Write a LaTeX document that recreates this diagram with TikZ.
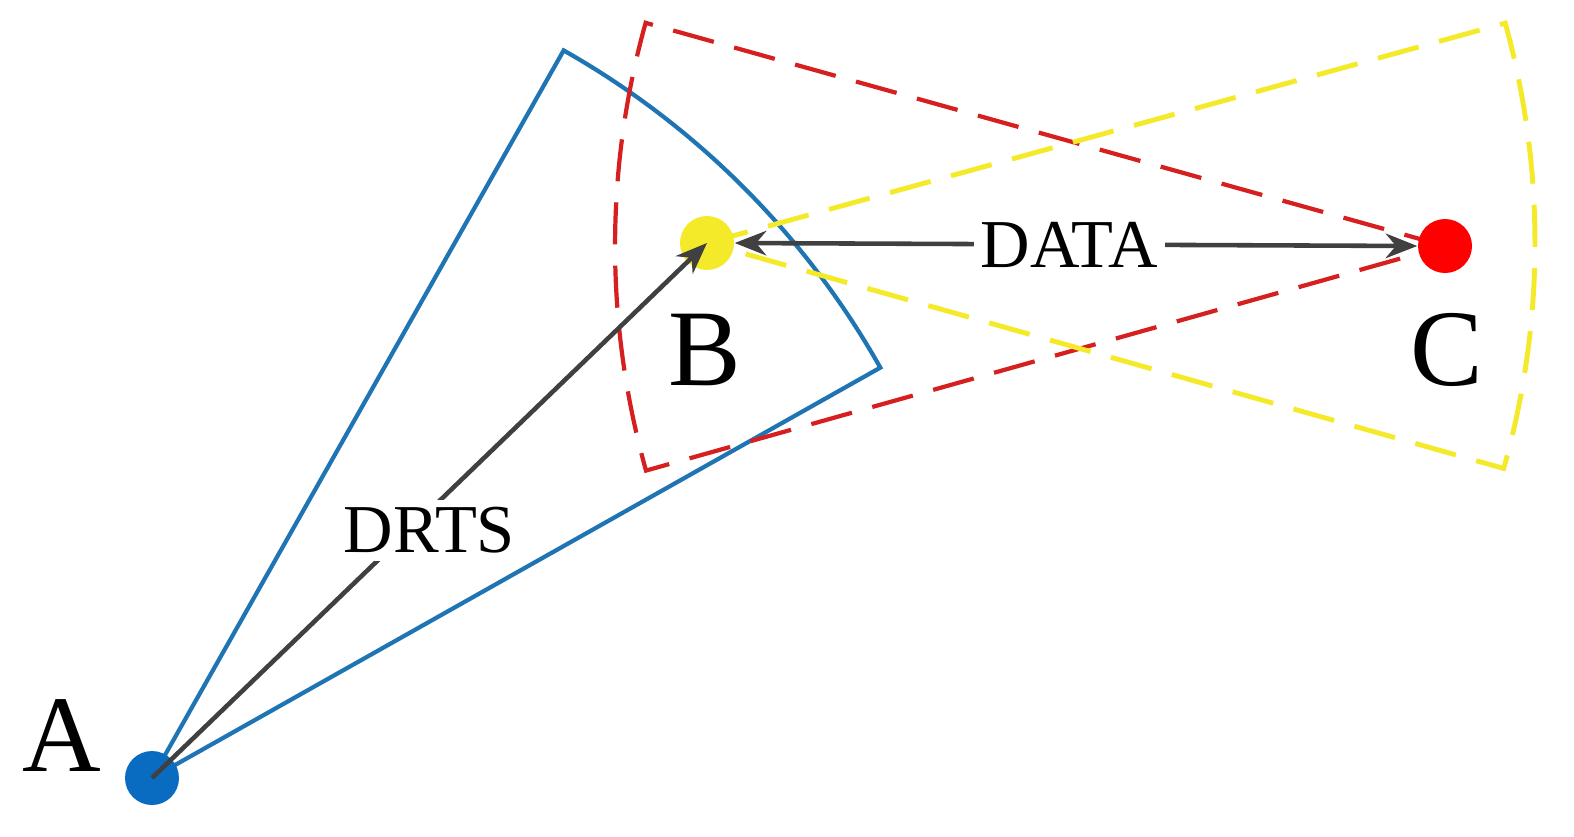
\documentclass[tikz,border=0pt]{standalone}
\usepackage{fontspec}
\setmainfont{Liberation Serif}
\usetikzlibrary{arrows.meta}
\definecolor{bl}{HTML}{1F74B4}
\definecolor{dot}{HTML}{0A6CC0}
\definecolor{rd}{HTML}{D62020}
\definecolor{yl}{HTML}{F5EA2A}
\definecolor{ar}{HTML}{404040}
\tikzset{
 pt/.style={circle,minimum size=0.54cm,inner sep=0pt},
 lab/.style={font=\fontsize{31}{31}\selectfont,inner sep=0pt},
 con/.style={ar,line width=1.3pt,-{Stealth[length=9pt,width=7pt]}},
 tl/.style={font=\fontsize{19.5}{19.5}\selectfont,fill=white,text=black,inner sep=2pt}
}
\begin{document}
\begin{tikzpicture}
\useasboundingbox (0,0) rectangle (15.74,8.36);
\coordinate (pA) at (1.52,0.58);
\coordinate (pB) at (7.07,5.93);
\coordinate (pC) at (14.45,5.90);
% sectors
\draw[bl,line width=1.2pt] (pA) -- ++(60.5:8.36) arc[start angle=60.5,end angle=29.4,radius=8.36] -- cycle;
\draw[rd,line width=1.2pt,dash pattern=on 12pt off 6pt] (pC) -- ++(164.4:8.3) arc[start angle=164.4,end angle=195.7,radius=8.3] -- cycle;
\draw[yl,line width=1.4pt,dash pattern=on 12pt off 6pt] (pB) -- ++(15.4:8.28) arc[start angle=15.4,end angle=-15.8,radius=8.28] -- cycle;
\node[pt,fill=dot] (A) at (pA) {};
\node[pt,fill=yl] (B) at (pB) {};
\node[pt,fill=red] (C) at (pC) {};
\draw[con] (A.center) -- node[tl,pos=0.5,xshift=0cm,yshift=-0.2cm] {DRTS} (B.center);
\draw[con,{Stealth[length=9pt,width=7pt]}-{Stealth[length=9pt,width=7pt]}] (B.east) -- node[tl,pos=0.49] {DATA} (C.west);
\node[lab] (lA) at (0.62,1.0) {A};
\node[lab] (lB) at (7.05,4.86) {B};
\node[lab] (lC) at (14.47,4.86) {C};
\end{tikzpicture}
\end{document}
